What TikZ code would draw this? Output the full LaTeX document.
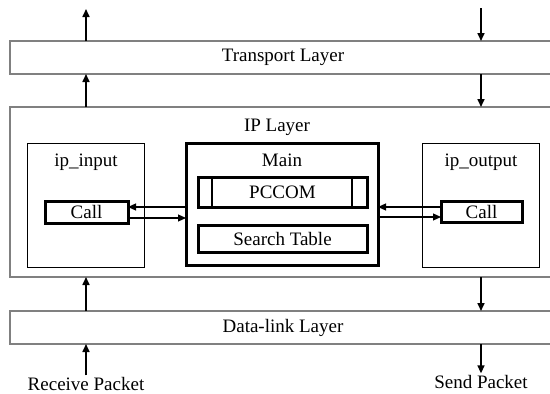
\documentclass[tikz,border=0pt]{standalone}
\usepackage{fontspec}
\setmainfont{Liberation Serif}
\usetikzlibrary{arrows.meta}

\begin{document}
\begin{tikzpicture}[x=1pt,y=-1pt,inner sep=0pt,outer sep=0pt,line width=1.6pt,
>={Triangle[length=8pt,width=7pt]},
every node/.style={font=\fontsize{19}{22}\selectfont},
layerblock/.style={draw=black!50,rectangle,minimum width=546pt,line width=1.5pt},
funcblock/.style={draw,rectangle,line width=1pt,minimum width=117pt,minimum height=124pt},
subblock/.style={draw,rectangle,line width=3pt,minimum width=169pt}]

\useasboundingbox (0,0) rectangle (550,394);
\clip (0,0) rectangle (550,394);

%%% Layers %%%%%
\draw (283,57.5) node[layerblock,minimum height=33pt] (TL) {Transport Layer};
\draw (283,192) node[layerblock,minimum height=170pt] (IPL) {};
\draw (283,327.5) node[layerblock,minimum height=33pt] (DL) {Data-link Layer};
\draw (277,127) node (iplbl) {IP Layer};

	%%% Inside the IP layer
	\draw (86,205) node[funcblock] (IN) {};
	\draw (86,162) node (inlbl) {ip\_input};
	\draw (481,205) node[funcblock] (OUT) {};
	\draw (481,162) node (outlbl) {ip\_output};
	\draw (282,204) node[draw,rectangle,line width=3pt,minimum width=192pt,minimum height=122pt] (M) {};
	\draw (282,160) node (mlbl) {Main};
	\draw (282.5,192) node[subblock,minimum height=30pt] (PC) {PCCOM};
	\draw[line width=2pt] ([xshift=14pt]PC.north west) -- ([xshift=14pt]PC.south west);
	\draw[line width=2pt] ([xshift=-15pt]PC.north east) -- ([xshift=-15pt]PC.south east);
	\draw (282.5,238.5) node[subblock,minimum height=27pt] (ST) {Search Table};
	\draw (86.5,212) node[draw,rectangle,line width=3pt,minimum width=83pt,minimum height=22pt] (CL) {Call};
	\draw (481.5,211.5) node[draw,rectangle,line width=3pt,minimum width=81pt,minimum height=21pt] (CR) {Call};
%%%%%%%%%%%%%%%%%%%%%%%%%

%%% Calls to and from Main
\draw[->,line width=1.2pt] (M.west |- 0,207) -- (CL.east |- 0,207);
\draw[->,line width=1.2pt] (CL.east |- 0,218) -- (M.west |- 0,218);
\draw[->,line width=1.2pt] (CR.west |- 0,207) -- (M.east |- 0,207);
\draw[->,line width=1.2pt] (M.east |- 0,217) -- (CR.west |- 0,217);

%%% Receive path (left) and send path (right)
	\coordinate (up) at (86,9);
	\coordinate (down) at (481,8);
	\draw (86,384) node[outer sep=2pt] (rx) {Receive Packet};
	\draw (481,382) node[outer sep=2pt] (tx) {Send Packet};

\draw[->] (rx.north) -- (DL.south -| rx);
\draw[->] (DL.north -| rx) -- (IPL.south -| rx);
\draw[->] (IPL.north -| rx) -- (TL.south -| rx);
\draw[->] (TL.north -| up) -- (up);

\draw[->] (down) -- (TL.north -| down);
\draw[->] (TL.south -| tx) -- (IPL.north -| tx);
\draw[->] (IPL.south -| tx) -- (DL.north -| tx);
\draw[->] (DL.south -| tx) -- (tx.north);

\end{tikzpicture}
\end{document}
